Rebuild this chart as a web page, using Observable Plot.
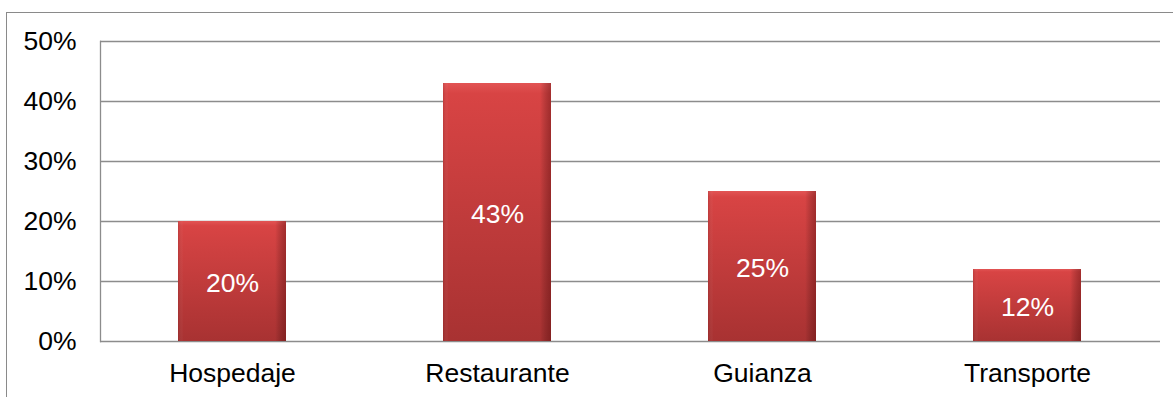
<!DOCTYPE html>
<html>
<head>
<meta charset="utf-8">
<script src="https://cdn.jsdelivr.net/npm/d3@7"></script>
<script src="https://cdn.jsdelivr.net/npm/@observablehq/plot@0.6"></script>
<style>
  html, body { margin: 0; padding: 0; background: #fff; overflow: hidden; }
  #wrap { position: relative; width: 1173px; height: 397px; }
  #border { position: absolute; left: 6px; top: 12px; width: 1300px; height: 600px;
            border: 1.5px solid #8a8a8a; box-sizing: border-box; pointer-events: none; }
  svg { position: absolute; left: 0; top: 0; }
</style>
</head>
<body>
<div id="wrap"><div id="border"></div></div>
<script>
const categories = ["Hospedaje", "Restaurante", "Guianza", "Transporte"];
const values = [0.20, 0.43, 0.25, 0.12];
const yTicks = [0, 0.1, 0.2, 0.3, 0.4, 0.5];

const data = categories.map((c, i) => ({category: c, value: values[i]}));
const pct = d3.format(".0%");
const font = "'Liberation Sans', Arial, sans-serif";
const fs = 26.5;

const chart = Plot.plot({
  width: 1173,
  height: 397,
  marginLeft: 100,
  marginRight: 13,
  marginTop: 41,
  marginBottom: 56,
  style: {fontFamily: font, fontSize: fs + "px", color: "#000", background: "transparent", overflow: "visible"},
  x: {domain: categories, paddingInner: 0.592, paddingOuter: 0.296, label: null},
  y: {domain: [0, 0.5], ticks: yTicks, label: null},
  marks: [
    Plot.ruleY(yTicks, {stroke: "#8c8c8c", strokeWidth: 1.3}),
    Plot.frame({anchor: "left", stroke: "#8c8c8c", strokeWidth: 1.3}),
    Plot.barY(data, {x: "category", y: "value", fill: "url(#barGrad)"}),
    Plot.barY(data, {x: "category", y: "value", fill: "url(#sideGrad)"}),
    Plot.axisY({ticks: yTicks, tickFormat: pct, tickSize: 0, tickPadding: 24, fontSize: fs, fill: "#000"}),
    Plot.axisX({tickSize: 0, tickPadding: 22, fontSize: fs, fill: "#000"}),
    Plot.text(data, {x: "category", y: d => d.value / 2, text: d => pct(d.value), fill: "#fff", fontSize: fs, dy: 2})
  ]
});

const svg = d3.select(chart);
const defs = svg.insert("defs", ":first-child");
const g1 = defs.append("linearGradient").attr("id", "barGrad").attr("x1", 0).attr("y1", 0).attr("x2", 0).attr("y2", 1);
g1.append("stop").attr("offset", "0%").attr("stop-color", "#e25454");
g1.append("stop").attr("offset", "4%").attr("stop-color", "#d84444");
g1.append("stop").attr("offset", "100%").attr("stop-color", "#a83232");
const g2 = defs.append("linearGradient").attr("id", "sideGrad").attr("x1", 0).attr("y1", 0).attr("x2", 1).attr("y2", 0);
g2.append("stop").attr("offset", "0%").attr("stop-color", "#400000").attr("stop-opacity", 0.15);
g2.append("stop").attr("offset", "5%").attr("stop-color", "#ffffff").attr("stop-opacity", 0);
g2.append("stop").attr("offset", "90%").attr("stop-color", "#000000").attr("stop-opacity", 0);
g2.append("stop").attr("offset", "100%").attr("stop-color", "#400000").attr("stop-opacity", 0.35);

document.getElementById("wrap").appendChild(chart);
</script>
</body>
</html>
